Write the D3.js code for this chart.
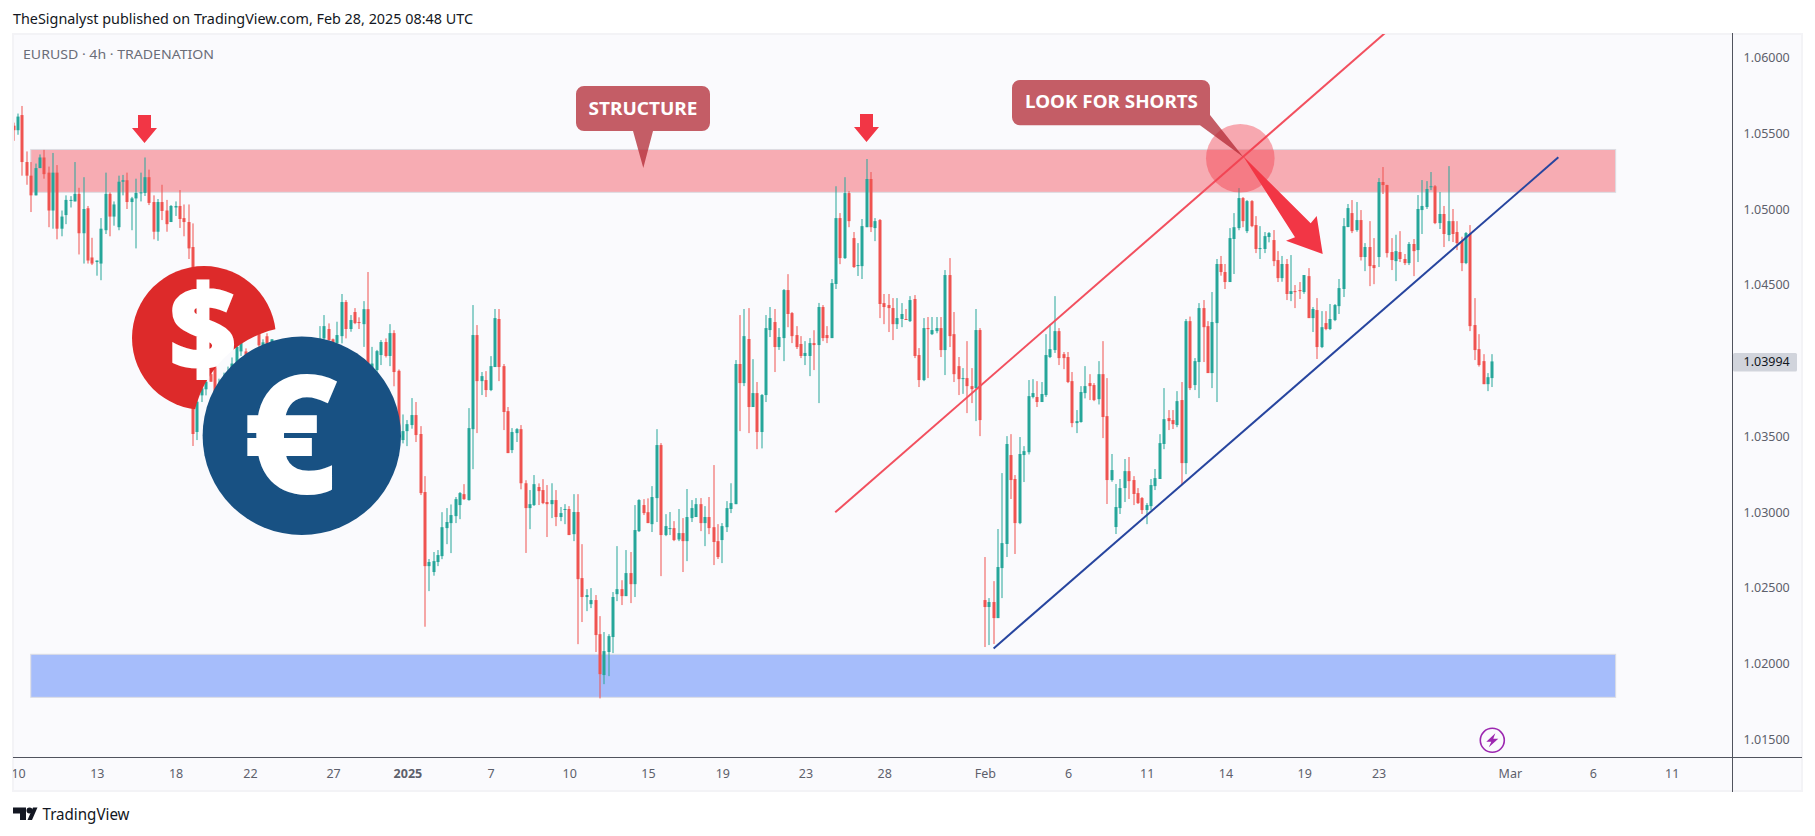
<!DOCTYPE html>
<html>
<head>
<meta charset="utf-8">
<title>EURUSD 4h</title>
<script src="https://cdn.jsdelivr.net/npm/d3@7"></script>
<style>
  html, body { margin: 0; padding: 0; background: #fff; }
  svg { display: block; }
  text { font-family: "Noto Sans", "DejaVu Sans", sans-serif; }
</style>
</head>
<body>
<svg id="chart" width="1815" height="836"></svg>
<script>
// EURUSD 4h candles (10 per row)
const opens = [
  1.0555,1.0552,1.0562,1.0531,1.0522,1.0509,1.0527,1.0534,1.0524,1.0499,
  1.0524,1.0487,1.0496,1.05055,1.0505,1.0510,1.0484,1.05005,1.0468,1.0465,
  1.0464,1.0486,1.0510,1.0495,1.0488,1.0518,1.0519,1.05046,1.0507,1.05106,
  1.05106,1.0521,1.05046,1.0485,1.05046,1.0499,1.04914,1.0501,1.0502,1.0494,
  1.04914,1.04749,1.03528,1.0377,1.0381,1.0391,1.03955,1.0379,1.0384,1.0388,
  1.0392,1.0398,1.0406,1.0406,1.0402,1.0397,1.0418,1.0408,1.0416,1.0411,
  1.0411,1.0408,1.0404,1.0400,1.0403,1.0406,1.0402,1.0405,1.0408,1.0405,
  1.0405,1.04146,1.04208,1.0414,1.04113,1.04161,1.04386,1.04208,1.0432,1.04254,
  1.0424,1.04339,1.0391,1.03937,1.04036,1.04122,1.0403,1.04181,1.03932,1.03475,
  1.03534,1.03574,1.0364,1.03515,1.03132,1.02643,1.02604,1.0267,1.02709,1.02894,
  1.02927,1.02973,1.03046,1.03118,1.03079,1.03547,1.04168,1.03864,1.03871,1.03805,
  1.03957,1.04274,1.03963,1.03666,1.03409,1.03521,1.03547,1.0319,1.03026,1.03046,
  1.03165,1.03145,1.03066,1.03052,1.03079,1.02967,1.03015,1.0302,1.02854,1.0300,
  1.02564,1.02439,1.02392,1.02419,1.02194,1.01924,1.02076,1.02175,1.02458,1.02491,
  1.02445,1.02597,1.02524,1.02874,1.03046,1.02999,1.0292,1.03092,1.03442,1.02848,
  1.0289,1.02894,1.02819,1.02861,1.02808,1.0296,1.02967,1.03052,1.02927,1.02967,
  1.0290,1.02808,1.02815,1.0290,1.0302,1.03052,1.03977,1.03851,1.04142,1.03693,
  1.03785,1.03528,1.03772,1.04201,1.04254,1.04089,1.04148,1.04465,1.04313,1.04168,
  1.04109,1.0403,1.0403,1.04115,1.04102,1.04353,1.04168,1.04148,1.04505,1.0494,
  1.04676,1.05105,1.04808,1.04629,1.04623,1.0488,1.05198,1.04874,1.04927,1.04379,
  1.04366,1.04346,1.0424,1.04274,1.04274,1.0426,1.04406,1.04036,1.03871,1.04214,
  1.04174,1.04194,1.04214,1.04069,1.04564,1.04174,1.03963,1.0388,1.03884,1.03831,
  1.03818,1.04201,1.02419,1.02373,1.02406,1.0230,1.0263,1.02789,1.03376,1.03218,
  1.02927,1.03376,1.03395,1.03759,1.03759,1.03726,1.03772,1.04023,1.04069,1.04194,
  1.04042,1.04023,1.03864,1.03587,1.03594,1.03785,1.03851,1.03838,1.03745,1.0391,
  1.03633,1.03211,1.02901,1.03026,1.03158,1.0327,1.03211,1.03125,1.03092,1.03013,
  1.03039,1.03171,1.03218,1.03449,1.0362,1.03607,1.03574,1.03739,1.03323,1.0426,
  1.03838,1.0399,1.04346,1.04227,1.03917,1.04247,1.04637,1.04584,1.04518,1.04802,
  1.04874,1.05072,1.04854,1.05052,1.04894,1.04736,1.04736,1.04815,1.04795,1.04663,
  1.04544,1.04637,1.04439,1.04458,1.04465,1.04452,1.04557,1.0428,1.04333,1.04089,
  1.04247,1.04208,1.04267,1.04359,1.04472,1.04881,1.04973,1.04861,1.04927,1.04683,
  1.04749,1.0463,1.04683,1.05178,1.05158,1.04716,1.04656,1.04716,1.0467,1.04643,
  1.04769,1.04729,1.04993,1.05013,1.05147,1.0515,1.04907,1.04967,1.04828,1.0492,
  1.04848,1.04788,1.04643,1.04835,1.04234,1.04075,1.03996,1.03844,1.03884
];
const highs = [
  1.0557,1.0563,1.0568,1.0538,1.0531,1.0530,1.0536,1.0539,1.0528,1.0537,
  1.0529,1.0499,1.0509,1.05085,1.0531,1.0514,1.0521,1.0502,1.0481,1.0466,
  1.0494,1.0524,1.0511,1.0505,1.0522,1.05225,1.0524,1.0508,1.0520,1.0524,
  1.0534,1.0526,1.0509,1.05066,1.0516,1.0506,1.05026,1.0505,1.05125,1.0503,
  1.0503,1.04905,1.0375,1.0385,1.0387,1.0393,1.0398,1.0388,1.0392,1.0396,
  1.0402,1.0411,1.0414,1.0408,1.0405,1.0404,1.0420,1.0414,1.0418,1.0414,
  1.0412,1.0411,1.0408,1.0407,1.0410,1.0410,1.0410,1.0412,1.0412,1.0413,
  1.04227,1.0430,1.04245,1.04145,1.04256,1.04439,1.04399,1.0430,1.04346,1.04285,
  1.04392,1.04584,1.0409,1.0407,1.04135,1.04146,1.0424,1.0420,1.03941,1.03644,
  1.03607,1.03752,1.03726,1.03567,1.03237,1.0269,1.02736,1.02749,1.02999,1.03026,
  1.0305,1.03099,1.03132,1.03184,1.03686,1.04366,1.04234,1.03924,1.0393,1.04029,
  1.0434,1.0434,1.03977,1.03693,1.03554,1.03554,1.03574,1.0321,1.03145,1.03244,
  1.03189,1.03217,1.03178,1.0319,1.03145,1.03033,1.03052,1.03039,1.03118,1.03118,
  1.02788,1.02491,1.02498,1.02452,1.02313,1.02208,1.02194,1.02472,1.02775,1.0255,
  1.02749,1.02736,1.03046,1.03085,1.03085,1.0309,1.03171,1.03547,1.03455,1.02986,
  1.0300,1.0294,1.0302,1.0296,1.03152,1.03079,1.03092,1.03092,1.03039,1.03099,
  1.0331,1.0292,1.02927,1.03072,1.0319,1.04003,1.0430,1.0434,1.04346,1.04009,
  1.03858,1.03779,1.0430,1.04353,1.0434,1.04214,1.04472,1.0457,1.0432,1.04227,
  1.04161,1.04128,1.04148,1.0420,1.0438,1.04366,1.04227,1.04538,1.0515,1.04973,
  1.0521,1.05118,1.04848,1.04775,1.04934,1.0533,1.05244,1.0494,1.04934,1.04439,
  1.04439,1.04412,1.04412,1.04379,1.0434,1.04425,1.04432,1.04082,1.0428,1.04287,
  1.04287,1.04287,1.04287,1.04597,1.04676,1.0432,1.04023,1.0395,1.04128,1.0395,
  1.0434,1.04214,1.02703,1.02432,1.02544,1.02888,1.03257,1.03501,1.03514,1.03244,
  1.03495,1.03435,1.03871,1.03877,1.03864,1.03858,1.04174,1.0424,1.04425,1.04214,
  1.04056,1.04056,1.03924,1.03673,1.03831,1.03963,1.0391,1.03851,1.03996,1.04128,
  1.03884,1.03383,1.03185,1.03218,1.0335,1.03363,1.03237,1.03158,1.03099,1.03059,
  1.03218,1.03284,1.03514,1.03818,1.03673,1.03673,1.03798,1.03858,1.04274,1.0429,
  1.04016,1.04379,1.04399,1.0426,1.04452,1.0467,1.0469,1.04637,1.04874,1.04973,
  1.05138,1.05079,1.05059,1.05059,1.04953,1.04887,1.04848,1.04848,1.04861,1.04722,
  1.0469,1.0467,1.04696,1.04498,1.04518,1.04564,1.0461,1.04353,1.04412,1.04326,
  1.04326,1.04373,1.04373,1.04538,1.0494,1.05033,1.05059,1.05046,1.04993,1.04775,
  1.0492,1.04808,1.05204,1.05277,1.0516,1.04808,1.0483,1.04854,1.04703,1.04782,
  1.04802,1.05092,1.05191,1.05184,1.05244,1.05158,1.05112,1.0502,1.05283,1.0500,
  1.0492,1.04817,1.04848,1.04894,1.04412,1.04174,1.04042,1.03917,1.04042
];
const lows = [
  1.0545,1.0549,1.0522,1.0516,1.0498,1.0509,1.0527,1.0520,1.0488,1.0487,
  1.0480,1.0482,1.0490,1.0501,1.0505,1.0470,1.0464,1.0464,1.0463,1.0456,
  1.0453,1.04835,1.0482,1.0489,1.0486,1.0509,1.0500,1.0486,1.0474,1.0505,
  1.05086,1.05026,1.0480,1.0479,1.04927,1.0485,1.04914,1.04954,1.04875,1.0482,
  1.0467,1.03436,1.03475,1.03726,1.0377,1.0386,1.0375,1.0375,1.0380,1.0385,
  1.0388,1.0396,1.0403,1.0399,1.0394,1.0393,1.0408,1.0404,1.0408,1.0408,
  1.0404,1.0400,1.0396,1.0395,1.0399,1.0398,1.0398,1.0401,1.0402,1.0402,
  1.0402,1.0412,1.0410,1.0405,1.0408,1.04113,1.04146,1.0419,1.0424,1.04208,
  1.0409,1.0388,1.0388,1.0390,1.0397,1.0402,1.03963,1.0383,1.0350,1.03453,
  1.03435,1.0355,1.03462,1.03112,1.02243,1.02478,1.0258,1.02643,1.02689,1.02788,
  1.02729,1.02927,1.02953,1.0308,1.03075,1.03283,1.03521,1.03772,1.03759,1.03798,
  1.03957,1.03864,1.03541,1.03389,1.03389,1.03462,1.0315,1.0273,1.02887,1.0304,
  1.03046,1.03052,1.02835,1.0296,1.02907,1.0294,1.0292,1.02848,1.02808,1.02128,
  1.02274,1.02346,1.02366,1.02076,1.0177,1.01864,1.01917,1.02069,1.02412,1.02386,
  1.02445,1.02399,1.02439,1.02868,1.0298,1.02927,1.02868,1.02934,1.02577,1.02841,
  1.02848,1.02808,1.02808,1.02604,1.02676,1.02934,1.02967,1.02874,1.02775,1.02854,
  1.0265,1.0269,1.02663,1.02868,1.02993,1.03052,1.03534,1.03831,1.03521,1.03693,
  1.03415,1.0342,1.03726,1.04155,1.03924,1.0407,1.03996,1.0422,1.04115,1.04076,
  1.04016,1.0397,1.03897,1.03937,1.03719,1.04128,1.04115,1.04148,1.04472,1.04636,
  1.0467,1.0488,1.04611,1.04558,1.04538,1.0488,1.04848,1.04788,1.0428,1.0424,
  1.04188,1.04135,1.04208,1.0422,1.0427,1.04254,1.04016,1.03825,1.03864,1.03884,
  1.04168,1.0418,1.04023,1.03904,1.04089,1.03858,1.03772,1.0378,1.03653,1.03719,
  1.036,1.03501,1.02109,1.02122,1.02129,1.0230,1.02432,1.02703,1.03086,1.02723,
  1.0292,1.03198,1.0338,1.0375,1.03693,1.03726,1.0376,1.04016,1.0405,1.0397,
  1.03943,1.03851,1.0356,1.03521,1.0359,1.0375,1.03739,1.03732,1.0371,1.03488,
  1.03053,1.0320,1.02855,1.02987,1.03066,1.03086,1.03046,1.03053,1.02987,1.0292,
  1.03013,1.03145,1.03218,1.03415,1.03541,1.03548,1.0356,1.03178,1.0325,1.03805,
  1.03805,1.03752,1.0399,1.04102,1.03818,1.03726,1.0456,1.04472,1.04518,1.04571,
  1.0486,1.0488,1.04841,1.0488,1.04709,1.0467,1.04709,1.0478,1.04623,1.04518,
  1.0452,1.04399,1.04392,1.04346,1.04406,1.0444,1.0428,1.04188,1.0401,1.04082,
  1.0420,1.04201,1.0426,1.04307,1.04419,1.0488,1.04841,1.0485,1.0466,1.0459,
  1.04491,1.04504,1.04617,1.05099,1.0468,1.04597,1.04524,1.0465,1.0463,1.0463,
  1.04557,1.0465,1.04835,1.05,1.05125,1.0490,1.04868,1.04749,1.04788,1.04782,
  1.04729,1.0459,1.04636,1.04194,1.04003,1.0396,1.03844,1.03798,1.03825
];
const closes = [
  1.0552,1.0561,1.0531,1.0522,1.0509,1.0527,1.0534,1.0523,1.0499,1.0524,
  1.0487,1.0495,1.0506,1.0506,1.0510,1.0484,1.0500,1.0466,1.0464,1.0466,
  1.0487,1.0510,1.0495,1.0503,1.0518,1.0519,1.05046,1.0507,1.05106,1.0511,
  1.0521,1.0504,1.0485,1.05046,1.04987,1.0490,1.0502,1.0502,1.04934,1.04914,
  1.0474,1.03515,1.03728,1.03816,1.0386,1.0386,1.0379,1.0384,1.0388,1.0392,
  1.0398,1.0409,1.0412,1.0402,1.0397,1.0401,1.0410,1.0412,1.0411,1.0414,
  1.0408,1.0404,1.0400,1.0403,1.0406,1.0402,1.0405,1.0408,1.0405,1.0409,
  1.0410,1.04227,1.04135,1.0410,1.04168,1.04386,1.04208,1.04267,1.04247,1.0425,
  1.04339,1.03915,1.0398,1.04062,1.04122,1.0403,1.04181,1.03924,1.03535,1.03534,
  1.0358,1.0364,1.03508,1.03125,1.02643,1.0267,1.02676,1.02716,1.0290,1.02934,
  1.0298,1.03085,1.03125,1.03085,1.03554,1.04168,1.03864,1.03897,1.03805,1.03963,
  1.0428,1.03957,1.0366,1.03389,1.03528,1.03547,1.0319,1.03026,1.03052,1.03184,
  1.03138,1.03059,1.03052,1.03079,1.02967,1.02993,1.0302,1.02848,1.0300,1.02557,
  1.02439,1.02452,1.02419,1.02188,1.0193,1.02082,1.02181,1.02439,1.02491,1.02445,
  1.02597,1.02524,1.02881,1.03079,1.02993,1.02927,1.03099,1.03442,1.02848,1.02907,
  1.02894,1.02815,1.02861,1.02808,1.02967,1.03026,1.03052,1.02927,1.02967,1.02894,
  1.02802,1.02703,1.02907,1.03026,1.03059,1.03977,1.03851,1.04161,1.03693,1.03785,
  1.03528,1.03772,1.04214,1.0428,1.04089,1.04155,1.04465,1.04307,1.04161,1.04089,
  1.0403,1.0405,1.04115,1.04102,1.04353,1.04148,1.04148,1.04511,1.0494,1.04676,
  1.05105,1.0492,1.04617,1.0463,1.04887,1.05198,1.0488,1.0492,1.04373,1.04353,
  1.04346,1.0424,1.0428,1.04307,1.0427,1.04399,1.0403,1.03871,1.04214,1.04208,
  1.04201,1.04214,1.04069,1.04564,1.04161,1.0391,1.03877,1.03884,1.03831,1.03811,
  1.04201,1.03607,1.02373,1.02406,1.0230,1.02637,1.02795,1.03449,1.03211,1.02927,
  1.03383,1.03402,1.03765,1.03785,1.03726,1.03779,1.04036,1.04075,1.04194,1.04016,
  1.04016,1.03858,1.03587,1.036,1.03792,1.03831,1.03831,1.03739,1.0391,1.03627,
  1.03211,1.03277,1.03033,1.03158,1.0327,1.03204,1.03119,1.03059,1.03013,1.03046,
  1.03178,1.03224,1.03455,1.03613,1.036,1.0358,1.03732,1.03323,1.0426,1.03818,
  1.03996,1.04346,1.0422,1.03917,1.04254,1.04637,1.04584,1.04518,1.04808,1.0488,
  1.05072,1.0492,1.05052,1.04887,1.04736,1.04742,1.04821,1.04841,1.04656,1.04544,
  1.04637,1.04439,1.04458,1.04452,1.04458,1.04564,1.0428,1.0434,1.04089,1.0422,
  1.04208,1.04274,1.04366,1.04478,1.04887,1.05006,1.04854,1.04927,1.04683,1.04749,
  1.04623,1.0461,1.05178,1.05158,1.04709,1.04663,1.04722,1.0467,1.04643,1.04769,
  1.04722,1.05,1.0502,1.05132,1.0515,1.04907,1.04967,1.04835,1.0492,1.04835,
  1.04775,1.04643,1.04841,1.04227,1.04069,1.0397,1.03844,1.0389,1.03994
];

const priceTicks = [1.06, 1.055, 1.05, 1.045, 1.04, 1.035, 1.03, 1.025, 1.02, 1.015];
const lastPrice = 1.03994;
// candle index under each date label
const timeTicks = [1, 19, 37, 54, 73, 90, 109, 127, 145, 162, 181, 199, 222, 241, 259, 277, 295, 312, 342, 361, 379];
const timeLabels = ['10', '13', '18', '22', '27', '2025', '7', '10', '15', '19', '23', '28', 'Feb', '6', '11', '14', '19', '23', 'Mar', '6', '11'];
// drawings, in candle index and price
const resistanceZone = [3.9, 366.2, 1.05393, 1.0511];
const supportZone = [3.9, 366.2, 1.02061, 1.01777];
const redLine = [[187.8, 1.02998], [313.5, 1.06162]];
const blueLine = [[224, 1.0210], [353.1, 1.05341]];

const x = d3.scaleLinear().domain([0, 338]).range([13.7, 1492.3]);
const y = d3.scaleLinear().domain([1.05, 1.015]).range([209, 739.3]);

const upColor = '#26a69a';
const downColor = '#ef5350';
const paneLeft = 14, paneRight = 1732, paneTop = 34, paneBottom = 757;

const svg = d3.select('#chart');
const defs = svg.append('defs');
defs.append('clipPath').attr('id', 'pane').append('rect')
  .attr('x', paneLeft).attr('y', paneTop).attr('width', paneRight - paneLeft).attr('height', paneBottom - paneTop);

// Frame + pane background
svg.append('rect').attr('x', 12).attr('y', 33).attr('width', 1791).attr('height', 759).attr('fill', '#f3f3f6');
svg.append('rect').attr('x', 14).attr('y', 35).attr('width', 1787).attr('height', 755).attr('fill', '#fafafd');

svg.append('text').attr('x', 13).attr('y', 24).attr('font-size', 14).attr('fill', '#131722')
  .attr('textLength', 460).attr('lengthAdjust', 'spacingAndGlyphs')
  .text('TheSignalyst published on TradingView.com, Feb 28, 2025 08:48 UTC');
svg.append('text').attr('x', 23).attr('y', 58.5).attr('font-size', 13).attr('fill', '#6a6d78')
  .attr('textLength', 191).attr('lengthAdjust', 'spacingAndGlyphs')
  .text('EURUSD · 4h · TRADENATION');

// Zones
const zones = [[resistanceZone, '#f7acb3'], [supportZone, '#a6bdfb']];
svg.append('g').selectAll('rect').data(zones).join('rect')
  .attr('x', d => x(d[0][0]))
  .attr('y', d => y(d[0][2]))
  .attr('width', d => x(d[0][1]) - x(d[0][0]))
  .attr('height', d => y(d[0][3]) - y(d[0][2]))
  .attr('fill', d => d[1])
  .attr('stroke', '#dcdde3').attr('stroke-width', 1);

// Candles
const idx = d3.range(opens.length);
const colorOf = i => closes[i] >= opens[i] ? upColor : downColor;
const candles = svg.append('g').attr('clip-path', 'url(#pane)');
candles.selectAll('rect.wick').data(idx).join('rect').attr('class', 'wick')
  .attr('x', i => Math.round(x(i)) - 0.5)
  .attr('y', i => y(highs[i]))
  .attr('width', 1)
  .attr('height', i => Math.max(1, y(lows[i]) - y(highs[i])))
  .attr('fill', colorOf);
candles.selectAll('rect.body').data(idx).join('rect').attr('class', 'body')
  .attr('x', i => Math.round(x(i)) - 1.5)
  .attr('y', i => y(Math.max(opens[i], closes[i])))
  .attr('width', 3)
  .attr('height', i => Math.max(1, Math.abs(y(opens[i]) - y(closes[i]))))
  .attr('fill', colorOf);

// Trend lines
const lineGen = d3.line().x(d => x(d[0])).y(d => y(d[1]));
const lines = svg.append('g').attr('clip-path', 'url(#pane)').attr('fill', 'none').attr('stroke-width', 2);
lines.append('path').attr('d', lineGen(redLine)).attr('stroke', '#f2505f');
lines.append('path').attr('d', lineGen(blueLine)).attr('stroke', '#27459f');

// Annotations
svg.append('circle').attr('cx', 1240.3).attr('cy', 158.3).attr('r', 34.3).attr('fill', '#f23645').attr('fill-opacity', 0.42);

const calloutFill = 'rgb(178,40,51)';
svg.append('path').attr('fill', calloutFill).attr('fill-opacity', 0.75)
  .attr('d', 'M584 86H702a8 8 0 0 1 8 8V123a8 8 0 0 1 -8 8H653L643.3 168L633 131H584a8 8 0 0 1 -8 -8V94a8 8 0 0 1 8 -8Z');
svg.append('text').attr('x', 643).attr('y', 114.5).attr('text-anchor', 'middle').attr('font-size', 18)
  .attr('font-weight', 700).attr('fill', '#fff').attr('textLength', 109).attr('lengthAdjust', 'spacingAndGlyphs').text('STRUCTURE');

svg.append('path').attr('fill', calloutFill).attr('fill-opacity', 0.75)
  .attr('d', 'M1020 80H1202a8 8 0 0 1 8 8V115L1243.3 157L1200 125.3H1020a8 8 0 0 1 -8 -8V88a8 8 0 0 1 8 -8Z');
svg.append('text').attr('x', 1111.5).attr('y', 107.5).attr('text-anchor', 'middle').attr('font-size', 18)
  .attr('font-weight', 700).attr('fill', '#fff').attr('textLength', 173).attr('lengthAdjust', 'spacingAndGlyphs').text('LOOK FOR SHORTS');

// Fat arrow from the circle down to the channel
svg.append('path').attr('fill', '#f23645')
  .attr('d', 'M1243 156L1310.7 223.3L1316.7 216L1322.7 254L1286 240.7L1295 237.3Z');

// Small arrows over the two highs
function downArrow(cx, top) {
  svg.append('path').attr('fill', '#f23645')
    .attr('d', `M${cx - 6.5} ${top}h13v13h6l-12.5 15l-12.5 -15h6Z`);
}
downArrow(144.5, 115);
downArrow(866.5, 114);

// Dollar logo, cut away around the euro coin
const euroCx = 301.8, euroCy = 435.8;
const mask = defs.append('mask').attr('id', 'dollarCut');
mask.append('rect').attr('width', 1815).attr('height', 836).attr('fill', '#fff');
mask.append('circle').attr('cx', euroCx).attr('cy', euroCy).attr('r', 110).attr('fill', '#000');
const dollar = svg.append('g').attr('mask', 'url(#dollarCut)');
dollar.append('circle').attr('cx', 204).attr('cy', 338).attr('r', 72).attr('fill', '#dd2a2a');
dollar.append('text').attr('x', 203).attr('y', 371).attr('text-anchor', 'middle').attr('font-size', 116)
  .attr('font-family', 'Liberation Sans').attr('font-weight', 700).attr('fill', '#fff')
  .attr('stroke', '#fff').attr('stroke-width', 5).text('$');

svg.append('circle').attr('cx', euroCx).attr('cy', euroCy).attr('r', 99.2).attr('fill', '#185183');
svg.append('text').attr('x', 290).attr('y', 491).attr('text-anchor', 'middle').attr('font-size', 160)
  .attr('font-family', 'Liberation Sans').attr('font-weight', 700).attr('fill', '#fff')
  .attr('stroke', '#fff').attr('stroke-width', 4).text('€');

// Bolt marker at the last candle
const bolt = svg.append('g').attr('transform', `translate(${x(338)},740.3)`);
bolt.append('circle').attr('r', 12).attr('fill', 'none').attr('stroke', '#9c27b0').attr('stroke-width', 1.6);
bolt.append('path').attr('fill', '#9c27b0').attr('d', 'M3 -7L-6 1.5H-1L-3.5 7L6 -1.5H1Z');

// Axes
const yAxis = d3.axisRight(y).tickValues(priceTicks).tickFormat(d3.format('.5f')).tickSize(0).tickPadding(11);
const yAxisG = svg.append('g').attr('transform', `translate(${paneRight + 0.5},0)`).call(yAxis);
yAxisG.select('.domain').remove();
yAxisG.selectAll('text').attr('font-size', 12.5).attr('fill', '#5d606b');

defs.append('clipPath').attr('id', 'frameX').append('rect').attr('x', 13).attr('y', -5).attr('width', 1700).attr('height', 40);
const xAxis = d3.axisBottom(x).tickValues(timeTicks).tickFormat((d, i) => timeLabels[i]).tickSize(0).tickPadding(12);
const xAxisG = svg.append('g').attr('transform', `translate(0,${paneBottom + 0.5})`).attr('clip-path', 'url(#frameX)').call(xAxis);
xAxisG.select('.domain').remove();
xAxisG.selectAll('text').attr('font-size', 12.5).attr('fill', '#5d606b')
  .attr('font-weight', (d, i) => timeLabels[i] === '2025' ? 700 : 400);

svg.append('line').attr('x1', 13).attr('x2', 1802).attr('y1', paneBottom + 0.5).attr('y2', paneBottom + 0.5).attr('stroke', '#50535e').attr('stroke-width', 1);
svg.append('line').attr('x1', paneRight + 0.5).attr('x2', paneRight + 0.5).attr('y1', 33).attr('y2', 792).attr('stroke', '#50535e').attr('stroke-width', 1);

// Last price tag
svg.append('rect').attr('x', paneRight + 1).attr('y', y(lastPrice) - 8.5).attr('width', 64).attr('height', 18.5).attr('rx', 1.5).attr('fill', '#d1d4dc');
svg.append('text').attr('x', paneRight + 11.5).attr('y', y(lastPrice) + 5).attr('font-size', 12.5).attr('fill', '#131722').text(d3.format('.5f')(lastPrice));

// TradingView mark
const logo = svg.append('g').attr('fill', '#131722');
logo.append('path').attr('d', 'M13 807.5H26V820H20V813.5H13Z');
logo.append('circle').attr('cx', 29.5).attr('cy', 810.5).attr('r', 3);
logo.append('path').attr('d', 'M27.5 820L33 807.5H37.5L32 820Z');
svg.append('text').attr('x', 42.5).attr('y', 820).attr('font-size', 15.5).attr('fill', '#131722')
  .attr('textLength', 87).attr('lengthAdjust', 'spacingAndGlyphs').text('TradingView');
</script>
</body>
</html>
